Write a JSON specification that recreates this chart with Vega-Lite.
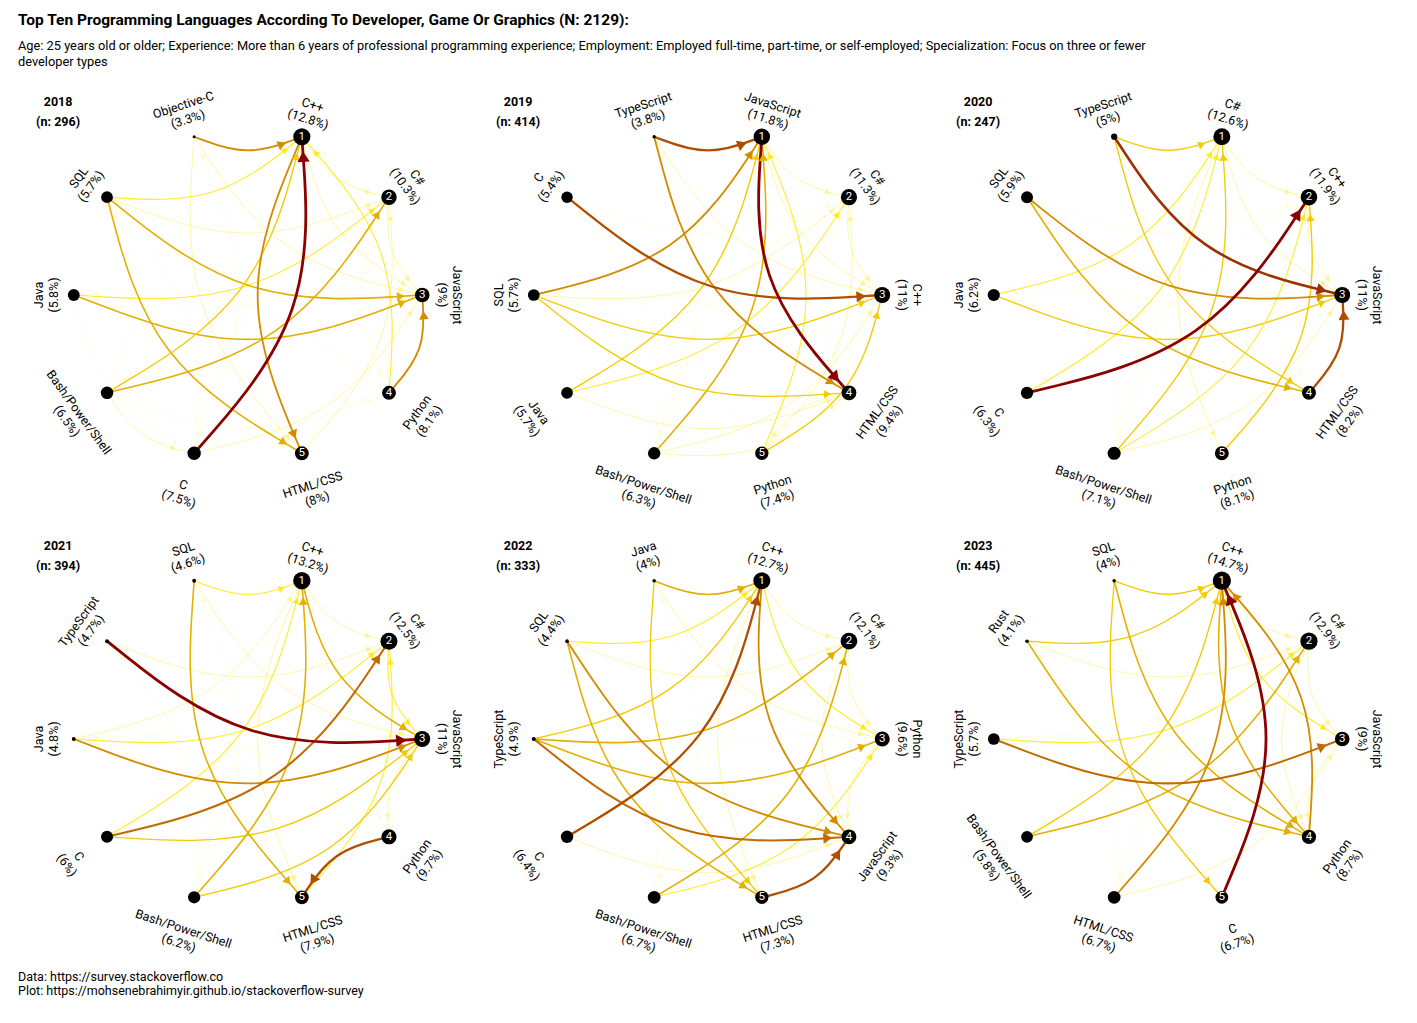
{
  "$schema": "https://vega.github.io/schema/vega-lite/v6.json",
  "padding": {"left": 18, "top": 12, "right": 10, "bottom": 5},
  "title": {
    "text": "Top Ten Programming Languages According To  Developer, Game Or Graphics (N: 2129):",
    "subtitle": ["Age: 25 years old or older; Experience: More than 6 years of professional programming experience; Employment: Employed full-time, part-time, or self-employed; Specialization: Focus on three or fewer", "developer types"],
    "anchor": "start", "font": "Roboto", "fontSize": 15.5, "fontWeight": "bold",
    "subtitleFont": "Roboto", "subtitleFontSize": 12.8, "subtitlePadding": 12, "subtitleLineHeight": 16, "offset": 8
  },
  "config": {"view": {"stroke": null}, "font": "Roboto"},
  "data": {"values": [
    {"t": "h", "year": 2018, "n": 296}, {"t": "h", "year": 2019, "n": 414}, {"t": "h", "year": 2020, "n": 247},
    {"t": "h", "year": 2021, "n": 394}, {"t": "h", "year": 2022, "n": 333}, {"t": "h", "year": 2023, "n": 445},

    {"t": "n", "year": 2018, "r": 1, "name": "C++", "p": 12.8}, {"t": "n", "year": 2018, "r": 2, "name": "C#", "p": 10.3},
    {"t": "n", "year": 2018, "r": 3, "name": "JavaScript", "p": 9}, {"t": "n", "year": 2018, "r": 4, "name": "Python", "p": 8.1},
    {"t": "n", "year": 2018, "r": 5, "name": "HTML/CSS", "p": 8}, {"t": "n", "year": 2018, "r": 6, "name": "C", "p": 7.5},
    {"t": "n", "year": 2018, "r": 7, "name": "Bash/Power/Shell", "p": 6.5}, {"t": "n", "year": 2018, "r": 8, "name": "Java", "p": 5.8},
    {"t": "n", "year": 2018, "r": 9, "name": "SQL", "p": 5.7}, {"t": "n", "year": 2018, "r": 10, "name": "Objective-C", "p": 3.3},

    {"t": "n", "year": 2019, "r": 1, "name": "JavaScript", "p": 11.8}, {"t": "n", "year": 2019, "r": 2, "name": "C#", "p": 11.3},
    {"t": "n", "year": 2019, "r": 3, "name": "C++", "p": 11}, {"t": "n", "year": 2019, "r": 4, "name": "HTML/CSS", "p": 9.4},
    {"t": "n", "year": 2019, "r": 5, "name": "Python", "p": 7.4}, {"t": "n", "year": 2019, "r": 6, "name": "Bash/Power/Shell", "p": 6.3},
    {"t": "n", "year": 2019, "r": 7, "name": "Java", "p": 5.7}, {"t": "n", "year": 2019, "r": 8, "name": "SQL", "p": 5.7},
    {"t": "n", "year": 2019, "r": 9, "name": "C", "p": 5.4}, {"t": "n", "year": 2019, "r": 10, "name": "TypeScript", "p": 3.8},

    {"t": "n", "year": 2020, "r": 1, "name": "C#", "p": 12.6}, {"t": "n", "year": 2020, "r": 2, "name": "C++", "p": 11.9},
    {"t": "n", "year": 2020, "r": 3, "name": "JavaScript", "p": 11}, {"t": "n", "year": 2020, "r": 4, "name": "HTML/CSS", "p": 8.2},
    {"t": "n", "year": 2020, "r": 5, "name": "Python", "p": 8.1}, {"t": "n", "year": 2020, "r": 6, "name": "Bash/Power/Shell", "p": 7.1},
    {"t": "n", "year": 2020, "r": 7, "name": "C", "p": 6.3}, {"t": "n", "year": 2020, "r": 8, "name": "Java", "p": 6.2},
    {"t": "n", "year": 2020, "r": 9, "name": "SQL", "p": 5.9}, {"t": "n", "year": 2020, "r": 10, "name": "TypeScript", "p": 5},

    {"t": "n", "year": 2021, "r": 1, "name": "C++", "p": 13.2}, {"t": "n", "year": 2021, "r": 2, "name": "C#", "p": 12.5},
    {"t": "n", "year": 2021, "r": 3, "name": "JavaScript", "p": 11}, {"t": "n", "year": 2021, "r": 4, "name": "Python", "p": 9.7},
    {"t": "n", "year": 2021, "r": 5, "name": "HTML/CSS", "p": 7.9}, {"t": "n", "year": 2021, "r": 6, "name": "Bash/Power/Shell", "p": 6.2},
    {"t": "n", "year": 2021, "r": 7, "name": "C", "p": 6}, {"t": "n", "year": 2021, "r": 8, "name": "Java", "p": 4.8},
    {"t": "n", "year": 2021, "r": 9, "name": "TypeScript", "p": 4.7}, {"t": "n", "year": 2021, "r": 10, "name": "SQL", "p": 4.6},

    {"t": "n", "year": 2022, "r": 1, "name": "C++", "p": 12.7}, {"t": "n", "year": 2022, "r": 2, "name": "C#", "p": 12.1},
    {"t": "n", "year": 2022, "r": 3, "name": "Python", "p": 9.6}, {"t": "n", "year": 2022, "r": 4, "name": "JavaScript", "p": 9.3},
    {"t": "n", "year": 2022, "r": 5, "name": "HTML/CSS", "p": 7.3}, {"t": "n", "year": 2022, "r": 6, "name": "Bash/Power/Shell", "p": 6.7},
    {"t": "n", "year": 2022, "r": 7, "name": "C", "p": 6.4}, {"t": "n", "year": 2022, "r": 8, "name": "TypeScript", "p": 4.9},
    {"t": "n", "year": 2022, "r": 9, "name": "SQL", "p": 4.4}, {"t": "n", "year": 2022, "r": 10, "name": "Java", "p": 4},

    {"t": "n", "year": 2023, "r": 1, "name": "C++", "p": 14.7}, {"t": "n", "year": 2023, "r": 2, "name": "C#", "p": 12.9},
    {"t": "n", "year": 2023, "r": 3, "name": "JavaScript", "p": 9}, {"t": "n", "year": 2023, "r": 4, "name": "Python", "p": 8.7},
    {"t": "n", "year": 2023, "r": 5, "name": "C", "p": 6.7}, {"t": "n", "year": 2023, "r": 6, "name": "HTML/CSS", "p": 6.7},
    {"t": "n", "year": 2023, "r": 7, "name": "Bash/Power/Shell", "p": 5.8}, {"t": "n", "year": 2023, "r": 8, "name": "TypeScript", "p": 5.7},
    {"t": "n", "year": 2023, "r": 9, "name": "Rust", "p": 4.1}, {"t": "n", "year": 2023, "r": 10, "name": "SQL", "p": 4},

    {"t": "e", "year": 2018, "f": 1, "to": 2, "w": 2}, {"t": "e", "year": 2018, "f": 2, "to": 3, "w": 2}, {"t": "e", "year": 2018, "f": 3, "to": 4, "w": 1},
    {"t": "e", "year": 2018, "f": 4, "to": 5, "w": 1}, {"t": "e", "year": 2018, "f": 1, "to": 3, "w": 2}, {"t": "e", "year": 2018, "f": 2, "to": 4, "w": 1},
    {"t": "e", "year": 2018, "f": 2, "to": 6, "w": 1}, {"t": "e", "year": 2018, "f": 3, "to": 7, "w": 1}, {"t": "e", "year": 2018, "f": 5, "to": 8, "w": 1},
    {"t": "e", "year": 2018, "f": 6, "to": 9, "w": 1}, {"t": "e", "year": 2018, "f": 9, "to": 2, "w": 2}, {"t": "e", "year": 2018, "f": 10, "to": 3, "w": 2},
    {"t": "e", "year": 2018, "f": 4, "to": 8, "w": 1}, {"t": "e", "year": 2018, "f": 5, "to": 2, "w": 2}, {"t": "e", "year": 2018, "f": 6, "to": 3, "w": 2},
    {"t": "e", "year": 2018, "f": 7, "to": 4, "w": 1}, {"t": "e", "year": 2018, "f": 6, "to": 10, "w": 1}, {"t": "e", "year": 2018, "f": 8, "to": 6, "w": 1},
    {"t": "e", "year": 2018, "f": 7, "to": 9, "w": 1}, {"t": "e", "year": 2018, "f": 10, "to": 5, "w": 2}, {"t": "e", "year": 2018, "f": 9, "to": 1, "w": 3},
    {"t": "e", "year": 2018, "f": 8, "to": 2, "w": 3}, {"t": "e", "year": 2018, "f": 7, "to": 6, "w": 2}, {"t": "e", "year": 2018, "f": 4, "to": 1, "w": 3},
    {"t": "e", "year": 2018, "f": 10, "to": 1, "w": 6}, {"t": "e", "year": 2018, "f": 9, "to": 3, "w": 5}, {"t": "e", "year": 2018, "f": 9, "to": 5, "w": 5},
    {"t": "e", "year": 2018, "f": 8, "to": 3, "w": 5}, {"t": "e", "year": 2018, "f": 7, "to": 2, "w": 5}, {"t": "e", "year": 2018, "f": 7, "to": 1, "w": 4},
    {"t": "e", "year": 2018, "f": 4, "to": 3, "w": 6}, {"t": "e", "year": 2018, "f": 1, "to": 5, "w": 6}, {"t": "e", "year": 2018, "f": 6, "to": 1, "w": 10},

    {"t": "e", "year": 2019, "f": 1, "to": 2, "w": 2}, {"t": "e", "year": 2019, "f": 2, "to": 3, "w": 2}, {"t": "e", "year": 2019, "f": 3, "to": 4, "w": 1},
    {"t": "e", "year": 2019, "f": 4, "to": 5, "w": 2}, {"t": "e", "year": 2019, "f": 1, "to": 3, "w": 2}, {"t": "e", "year": 2019, "f": 2, "to": 4, "w": 1},
    {"t": "e", "year": 2019, "f": 2, "to": 6, "w": 1}, {"t": "e", "year": 2019, "f": 3, "to": 7, "w": 1}, {"t": "e", "year": 2019, "f": 5, "to": 8, "w": 1},
    {"t": "e", "year": 2019, "f": 6, "to": 9, "w": 1}, {"t": "e", "year": 2019, "f": 8, "to": 1, "w": 2}, {"t": "e", "year": 2019, "f": 9, "to": 2, "w": 1},
    {"t": "e", "year": 2019, "f": 10, "to": 3, "w": 2}, {"t": "e", "year": 2019, "f": 4, "to": 8, "w": 1}, {"t": "e", "year": 2019, "f": 5, "to": 2, "w": 2},
    {"t": "e", "year": 2019, "f": 6, "to": 3, "w": 2}, {"t": "e", "year": 2019, "f": 7, "to": 4, "w": 2}, {"t": "e", "year": 2019, "f": 6, "to": 10, "w": 1},
    {"t": "e", "year": 2019, "f": 7, "to": 2, "w": 3}, {"t": "e", "year": 2019, "f": 8, "to": 2, "w": 2}, {"t": "e", "year": 2019, "f": 5, "to": 1, "w": 3},
    {"t": "e", "year": 2019, "f": 6, "to": 4, "w": 2}, {"t": "e", "year": 2019, "f": 7, "to": 1, "w": 4}, {"t": "e", "year": 2019, "f": 6, "to": 1, "w": 5},
    {"t": "e", "year": 2019, "f": 5, "to": 3, "w": 4}, {"t": "e", "year": 2019, "f": 8, "to": 3, "w": 4}, {"t": "e", "year": 2019, "f": 8, "to": 4, "w": 4},
    {"t": "e", "year": 2019, "f": 8, "to": 1, "w": 6}, {"t": "e", "year": 2019, "f": 10, "to": 4, "w": 6}, {"t": "e", "year": 2019, "f": 9, "to": 3, "w": 8},
    {"t": "e", "year": 2019, "f": 10, "to": 1, "w": 8}, {"t": "e", "year": 2019, "f": 1, "to": 4, "w": 10},

    {"t": "e", "year": 2020, "f": 1, "to": 2, "w": 2}, {"t": "e", "year": 2020, "f": 2, "to": 3, "w": 2}, {"t": "e", "year": 2020, "f": 4, "to": 5, "w": 1},
    {"t": "e", "year": 2020, "f": 1, "to": 3, "w": 2}, {"t": "e", "year": 2020, "f": 2, "to": 4, "w": 1}, {"t": "e", "year": 2020, "f": 1, "to": 5, "w": 2},
    {"t": "e", "year": 2020, "f": 2, "to": 6, "w": 1}, {"t": "e", "year": 2020, "f": 3, "to": 7, "w": 1}, {"t": "e", "year": 2020, "f": 5, "to": 8, "w": 1},
    {"t": "e", "year": 2020, "f": 6, "to": 9, "w": 1}, {"t": "e", "year": 2020, "f": 9, "to": 2, "w": 1}, {"t": "e", "year": 2020, "f": 4, "to": 8, "w": 1},
    {"t": "e", "year": 2020, "f": 5, "to": 2, "w": 2}, {"t": "e", "year": 2020, "f": 6, "to": 3, "w": 2}, {"t": "e", "year": 2020, "f": 7, "to": 1, "w": 3},
    {"t": "e", "year": 2020, "f": 8, "to": 1, "w": 3}, {"t": "e", "year": 2020, "f": 10, "to": 1, "w": 4}, {"t": "e", "year": 2020, "f": 6, "to": 10, "w": 1},
    {"t": "e", "year": 2020, "f": 8, "to": 3, "w": 4}, {"t": "e", "year": 2020, "f": 6, "to": 1, "w": 4}, {"t": "e", "year": 2020, "f": 5, "to": 2, "w": 4},
    {"t": "e", "year": 2020, "f": 10, "to": 4, "w": 4}, {"t": "e", "year": 2020, "f": 6, "to": 2, "w": 3}, {"t": "e", "year": 2020, "f": 9, "to": 4, "w": 5},
    {"t": "e", "year": 2020, "f": 9, "to": 3, "w": 6}, {"t": "e", "year": 2020, "f": 4, "to": 3, "w": 8}, {"t": "e", "year": 2020, "f": 10, "to": 3, "w": 9},
    {"t": "e", "year": 2020, "f": 7, "to": 2, "w": 10},

    {"t": "e", "year": 2021, "f": 1, "to": 2, "w": 2}, {"t": "e", "year": 2021, "f": 2, "to": 3, "w": 3}, {"t": "e", "year": 2021, "f": 3, "to": 4, "w": 2},
    {"t": "e", "year": 2021, "f": 1, "to": 5, "w": 2}, {"t": "e", "year": 2021, "f": 2, "to": 4, "w": 1}, {"t": "e", "year": 2021, "f": 2, "to": 6, "w": 1},
    {"t": "e", "year": 2021, "f": 3, "to": 7, "w": 1}, {"t": "e", "year": 2021, "f": 5, "to": 8, "w": 1}, {"t": "e", "year": 2021, "f": 6, "to": 9, "w": 1},
    {"t": "e", "year": 2021, "f": 8, "to": 1, "w": 2}, {"t": "e", "year": 2021, "f": 9, "to": 2, "w": 2}, {"t": "e", "year": 2021, "f": 10, "to": 3, "w": 2},
    {"t": "e", "year": 2021, "f": 4, "to": 8, "w": 1}, {"t": "e", "year": 2021, "f": 5, "to": 2, "w": 3}, {"t": "e", "year": 2021, "f": 7, "to": 1, "w": 3},
    {"t": "e", "year": 2021, "f": 6, "to": 10, "w": 1}, {"t": "e", "year": 2021, "f": 10, "to": 1, "w": 3}, {"t": "e", "year": 2021, "f": 8, "to": 2, "w": 3},
    {"t": "e", "year": 2021, "f": 7, "to": 3, "w": 4}, {"t": "e", "year": 2021, "f": 6, "to": 3, "w": 4}, {"t": "e", "year": 2021, "f": 1, "to": 3, "w": 5},
    {"t": "e", "year": 2021, "f": 6, "to": 1, "w": 5}, {"t": "e", "year": 2021, "f": 10, "to": 5, "w": 5}, {"t": "e", "year": 2021, "f": 8, "to": 3, "w": 6},
    {"t": "e", "year": 2021, "f": 7, "to": 2, "w": 7}, {"t": "e", "year": 2021, "f": 4, "to": 5, "w": 8}, {"t": "e", "year": 2021, "f": 9, "to": 3, "w": 10},

    {"t": "e", "year": 2022, "f": 1, "to": 2, "w": 2}, {"t": "e", "year": 2022, "f": 2, "to": 3, "w": 2}, {"t": "e", "year": 2022, "f": 3, "to": 4, "w": 2},
    {"t": "e", "year": 2022, "f": 1, "to": 3, "w": 3}, {"t": "e", "year": 2022, "f": 2, "to": 4, "w": 2}, {"t": "e", "year": 2022, "f": 1, "to": 5, "w": 2},
    {"t": "e", "year": 2022, "f": 2, "to": 6, "w": 1}, {"t": "e", "year": 2022, "f": 3, "to": 7, "w": 1}, {"t": "e", "year": 2022, "f": 5, "to": 8, "w": 1},
    {"t": "e", "year": 2022, "f": 6, "to": 9, "w": 1}, {"t": "e", "year": 2022, "f": 9, "to": 2, "w": 2}, {"t": "e", "year": 2022, "f": 10, "to": 3, "w": 2},
    {"t": "e", "year": 2022, "f": 6, "to": 3, "w": 3}, {"t": "e", "year": 2022, "f": 7, "to": 4, "w": 2}, {"t": "e", "year": 2022, "f": 6, "to": 10, "w": 1},
    {"t": "e", "year": 2022, "f": 8, "to": 1, "w": 4}, {"t": "e", "year": 2022, "f": 9, "to": 1, "w": 3}, {"t": "e", "year": 2022, "f": 10, "to": 5, "w": 4},
    {"t": "e", "year": 2022, "f": 10, "to": 1, "w": 5}, {"t": "e", "year": 2022, "f": 6, "to": 2, "w": 5}, {"t": "e", "year": 2022, "f": 8, "to": 3, "w": 5},
    {"t": "e", "year": 2022, "f": 8, "to": 2, "w": 5}, {"t": "e", "year": 2022, "f": 9, "to": 5, "w": 5}, {"t": "e", "year": 2022, "f": 9, "to": 4, "w": 6},
    {"t": "e", "year": 2022, "f": 1, "to": 4, "w": 6}, {"t": "e", "year": 2022, "f": 8, "to": 4, "w": 7}, {"t": "e", "year": 2022, "f": 5, "to": 4, "w": 8},
    {"t": "e", "year": 2022, "f": 7, "to": 1, "w": 8},

    {"t": "e", "year": 2023, "f": 1, "to": 2, "w": 2}, {"t": "e", "year": 2023, "f": 2, "to": 3, "w": 2}, {"t": "e", "year": 2023, "f": 3, "to": 4, "w": 2},
    {"t": "e", "year": 2023, "f": 1, "to": 3, "w": 3}, {"t": "e", "year": 2023, "f": 2, "to": 4, "w": 2}, {"t": "e", "year": 2023, "f": 2, "to": 6, "w": 1},
    {"t": "e", "year": 2023, "f": 3, "to": 7, "w": 1}, {"t": "e", "year": 2023, "f": 5, "to": 8, "w": 1}, {"t": "e", "year": 2023, "f": 6, "to": 9, "w": 1},
    {"t": "e", "year": 2023, "f": 9, "to": 2, "w": 2}, {"t": "e", "year": 2023, "f": 4, "to": 8, "w": 1}, {"t": "e", "year": 2023, "f": 6, "to": 3, "w": 2},
    {"t": "e", "year": 2023, "f": 6, "to": 10, "w": 1}, {"t": "e", "year": 2023, "f": 8, "to": 2, "w": 3}, {"t": "e", "year": 2023, "f": 10, "to": 1, "w": 4},
    {"t": "e", "year": 2023, "f": 10, "to": 5, "w": 4}, {"t": "e", "year": 2023, "f": 9, "to": 1, "w": 4}, {"t": "e", "year": 2023, "f": 7, "to": 1, "w": 4},
    {"t": "e", "year": 2023, "f": 1, "to": 4, "w": 5}, {"t": "e", "year": 2023, "f": 10, "to": 4, "w": 5}, {"t": "e", "year": 2023, "f": 7, "to": 2, "w": 5},
    {"t": "e", "year": 2023, "f": 9, "to": 4, "w": 5}, {"t": "e", "year": 2023, "f": 6, "to": 1, "w": 6}, {"t": "e", "year": 2023, "f": 4, "to": 1, "w": 6},
    {"t": "e", "year": 2023, "f": 8, "to": 3, "w": 7}, {"t": "e", "year": 2023, "f": 5, "to": 1, "w": 10}
  ]},
  "vconcat": [{
    "title": {"text": ["Data: https://survey.stackoverflow.co", "Plot: https://mohsenebrahimyir.github.io/stackoverflow-survey"], "orient": "bottom", "anchor": "start", "fontSize": 12.5, "fontWeight": "normal", "font": "Roboto", "offset": 6},
    "facet": {"field": "year", "type": "ordinal", "title": null, "header": {"labels": false, "labelFontSize": 0, "labelPadding": 0, "title": null}},
    "columns": 3,
    "spacing": {"column": 0, "row": 0},
    "spec": {
      "width": 460,
      "height": 436,
      "resolve": {"scale": {"size": "independent", "color": "independent", "opacity": "independent"}},
      "layer": [
        {
          "transform": [
            {"filter": "datum.t == 'e'"},
            {"calculate": "(72 - 36 * (datum.f - 1)) * PI / 180", "as": "sa"},
            {"calculate": "(72 - 36 * (datum.to - 1)) * PI / 180", "as": "ta"},
            {"calculate": "cos(datum.sa)", "as": "sx"}, {"calculate": "sin(datum.sa)", "as": "sy"},
            {"calculate": "cos(datum.ta)", "as": "tx"}, {"calculate": "sin(datum.ta)", "as": "ty"},
            {"calculate": "(datum.sx + datum.tx) / 2 + 0.2 * (datum.ty - datum.sy)", "as": "cx"},
            {"calculate": "(datum.sy + datum.ty) / 2 - 0.2 * (datum.tx - datum.sx)", "as": "cy"},
            {"calculate": "datum.f + '-' + datum.to", "as": "id"},
            {"calculate": "0", "as": "s"}, {"calculate": "1", "as": "c"}, {"calculate": "2", "as": "e"},
            {"fold": ["s", "c", "e"], "as": ["k", "ord"]},
            {"calculate": "datum.k == 's' ? datum.sx : datum.k == 'c' ? datum.cx : datum.tx", "as": "px"},
            {"calculate": "datum.k == 's' ? datum.sy : datum.k == 'c' ? datum.cy : datum.ty", "as": "py"}
          ],
          "mark": {"type": "line", "interpolate": "basis"},
          "encoding": {
            "x": {"field": "px", "type": "quantitative", "scale": {"domain": [-1.32, 1.32], "nice": false, "zero": false}, "axis": null},
            "y": {"field": "py", "type": "quantitative", "scale": {"domain": [-1.31, 1.31], "nice": false, "zero": false}, "axis": null},
            "detail": {"field": "id"},
            "order": {"field": "ord", "type": "quantitative"},
            "color": {"field": "w", "type": "quantitative", "scale": {"domain": [1, 3, 5, 7, 10], "range": ["#fff9a8", "#ffe800", "#e2b000", "#c06a00", "#8b0000"]}, "legend": null},
            "strokeWidth": {"field": "w", "type": "quantitative", "scale": {"domain": [1, 10], "range": [0.6, 2.8]}, "legend": null},
            "opacity": {"field": "w", "type": "quantitative", "scale": {"domain": [1, 4], "range": [0.55, 1], "clamp": true}, "legend": null}
          }
        },
        {
          "transform": [
            {"filter": "datum.t == 'e'"},
            {"calculate": "(72 - 36 * (datum.f - 1)) * PI / 180", "as": "sa"},
            {"calculate": "(72 - 36 * (datum.to - 1)) * PI / 180", "as": "ta"},
            {"calculate": "cos(datum.sa)", "as": "sx"}, {"calculate": "sin(datum.sa)", "as": "sy"},
            {"calculate": "cos(datum.ta)", "as": "tx"}, {"calculate": "sin(datum.ta)", "as": "ty"},
            {"calculate": "(datum.sx + datum.tx) / 2 + 0.2 * (datum.ty - datum.sy)", "as": "cx"},
            {"calculate": "(datum.sy + datum.ty) / 2 - 0.2 * (datum.tx - datum.sx)", "as": "cy"},
            {"calculate": "sqrt(pow(datum.tx - datum.cx, 2) + pow(datum.ty - datum.cy, 2))", "as": "len"},
            {"calculate": "datum.tx - 0.13 * (datum.tx - datum.cx) / datum.len", "as": "ax"},
            {"calculate": "datum.ty - 0.13 * (datum.ty - datum.cy) / datum.len", "as": "ay"},
            {"calculate": "atan2(datum.tx - datum.cx, datum.ty - datum.cy) * 180 / PI", "as": "ang"}
          ],
          "mark": {"type": "point", "shape": "triangle", "filled": true},
          "encoding": {
            "x": {"field": "ax", "type": "quantitative"},
            "y": {"field": "ay", "type": "quantitative"},
            "angle": {"field": "ang", "type": "quantitative", "scale": null},
            "color": {"field": "w", "type": "quantitative", "scale": {"domain": [1, 3, 5, 7, 10], "range": ["#fff9a8", "#ffe800", "#e2b000", "#c06a00", "#8b0000"]}, "legend": null},
            "size": {"field": "w", "type": "quantitative", "scale": {"domain": [1, 10], "range": [25, 150]}, "legend": null},
            "opacity": {"field": "w", "type": "quantitative", "scale": {"domain": [1, 4], "range": [0.55, 1], "clamp": true}, "legend": null}
          }
        },
        {
          "transform": [
            {"filter": "datum.t == 'n'"},
            {"calculate": "(72 - 36 * (datum.r - 1)) * PI / 180", "as": "a"},
            {"calculate": "cos(datum.a)", "as": "nx"}, {"calculate": "sin(datum.a)", "as": "ny"}
          ],
          "mark": {"type": "circle", "color": "black", "opacity": 1},
          "encoding": {
            "x": {"field": "nx", "type": "quantitative"},
            "y": {"field": "ny", "type": "quantitative"},
            "size": {"field": "p", "type": "quantitative", "scale": {"type": "linear", "domain": [3, 4.9, 5.4, 7, 15], "range": [8, 16, 130, 170, 340]}, "legend": null}
          }
        },
        {
          "transform": [
            {"filter": "datum.t == 'n' && datum.r <= 5"},
            {"calculate": "(72 - 36 * (datum.r - 1)) * PI / 180", "as": "a"},
            {"calculate": "cos(datum.a)", "as": "nx"}, {"calculate": "sin(datum.a)", "as": "ny"}
          ],
          "mark": {"type": "text", "color": "white", "fontSize": 11.5, "baseline": "middle", "align": "center"},
          "encoding": {
            "x": {"field": "nx", "type": "quantitative"},
            "y": {"field": "ny", "type": "quantitative"},
            "text": {"field": "r"}
          }
        },
        {
          "transform": [
            {"filter": "datum.t == 'n'"},
            {"calculate": "(72 - 36 * (datum.r - 1)) * PI / 180", "as": "a"},
            {"calculate": "1.2 * cos(datum.a)", "as": "lx"}, {"calculate": "1.2 * sin(datum.a)", "as": "ly"},
            {"calculate": "36 * datum.r - 18", "as": "raw"},
            {"calculate": "datum.raw >= 270 ? datum.raw - 360 : datum.raw > 90 ? datum.raw - 180 : datum.raw", "as": "rot"},
            {"calculate": "[datum.name, '(' + datum.p + '%)']", "as": "lab"}
          ],
          "mark": {"type": "text", "fontSize": 12.5, "baseline": "middle", "align": "center", "lineHeight": 15, "color": "black"},
          "encoding": {
            "x": {"field": "lx", "type": "quantitative"},
            "y": {"field": "ly", "type": "quantitative"},
            "angle": {"field": "rot", "type": "quantitative", "scale": null},
            "text": {"field": "lab"}
          }
        },
        {
          "transform": [
            {"filter": "datum.t == 'h'"},
            {"calculate": "[datum.year + '', '(n: ' + datum.n + ')']", "as": "lab"}
          ],
          "mark": {"type": "text", "fontSize": 12.5, "fontWeight": "bold", "baseline": "middle", "align": "center", "lineHeight": 20},
          "encoding": {
            "x": {"datum": -1.09},
            "y": {"datum": 1.16},
            "text": {"field": "lab"}
          }
        }
      ]
    }
  }]
}
